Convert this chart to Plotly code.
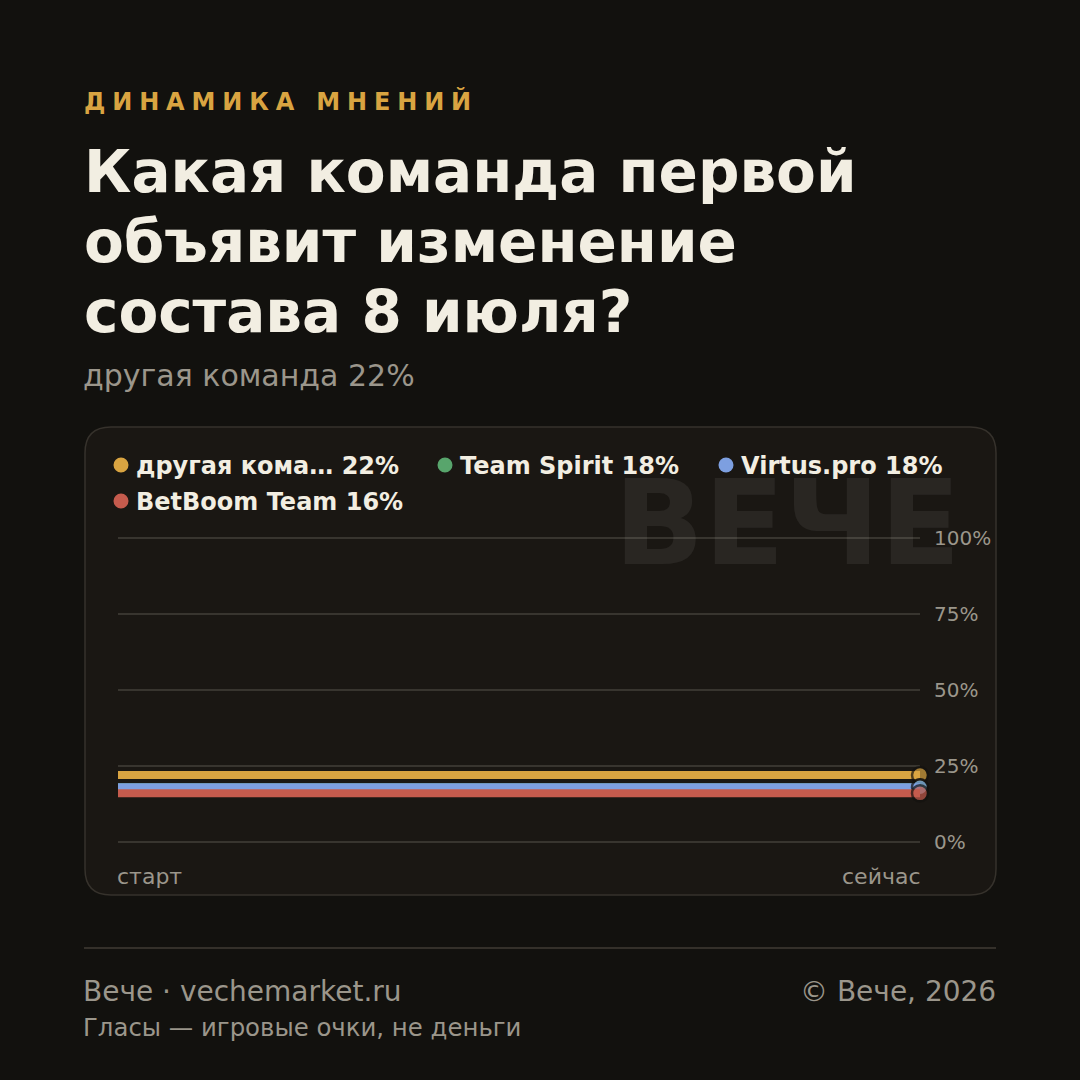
import plotly.graph_objects as go

# ---- data ----
time_labels = ["старт", "сейчас"]
team_names = ["другая команда", "Team Spirit", "Virtus.pro", "BetBoom Team"]
start_values = [22, 18, 18, 16]
now_values = [22, 18, 18, 16]
team_colors = ["#d9a441", "#58a56c", "#7d9fe0", "#c55b4d"]
y_ticks = [0, 25, 50, 75, 100]
y_tick_labels = ["0%", "25%", "50%", "75%", "100%"]

kicker = "ДИНАМИКА МНЕНИЙ"
title_lines = ["Какая команда первой", "объявит изменение", "состава 8 июля?"]
leader_text = f"{team_names[0]} {now_values[0]}%"

BG = "#12110e"
CARD = "#1a1713"
BORDER = "#36322c"
GRID = "#38352f"
TXT = "#f2eee2"
MUTED = "#9b968b"
FONT = "DejaVu Sans"
W = H = 1080


def px(x):
    return x / W


def py(y):
    return 1 - y / H


def short(n, m=12):
    return n if len(n) <= m else n[:11] + "…"


fig = go.Figure()

for name, s, v, c in zip(team_names, start_values, now_values, team_colors):
    fig.add_trace(go.Scatter(
        x=time_labels, y=[s, v], mode="lines+markers", name=name,
        line=dict(color=c, width=8),
        marker=dict(size=[0, 16], color=c, line=dict(color="#14120f", width=[0, 2.5])),
        cliponaxis=False, showlegend=False, hoverinfo="skip"))

# rounded card
x0, x1, y0, y1, r = 85, 996, 427, 895, 26
path = (f"M {px(x0 + r)} {py(y0)} L {px(x1 - r)} {py(y0)} Q {px(x1)} {py(y0)} {px(x1)} {py(y0 + r)} "
        f"L {px(x1)} {py(y1 - r)} Q {px(x1)} {py(y1)} {px(x1 - r)} {py(y1)} "
        f"L {px(x0 + r)} {py(y1)} Q {px(x0)} {py(y1)} {px(x0)} {py(y1 - r)} "
        f"L {px(x0)} {py(y0 + r)} Q {px(x0)} {py(y0)} {px(x0 + r)} {py(y0)} Z")

shapes = [
    dict(type="path", xref="paper", yref="paper", path=path, fillcolor=CARD,
         line=dict(color=BORDER, width=1.5), layer="below"),
    dict(type="line", xref="paper", yref="paper", x0=px(84), x1=px(996), y0=py(948), y1=py(948),
         line=dict(color="#34302a", width=2), layer="below"),
]

annotations = [
    dict(text="ВЕЧЕ", xref="paper", yref="paper", x=px(963), y=py(523), xanchor="right", yanchor="middle",
         showarrow=False, font=dict(family=FONT, size=118, color="rgba(255,255,255,0.065)", weight="bold")),
    dict(text=f"<span style='letter-spacing:6.85px'>{kicker}</span>", xref="paper", yref="paper",
         x=px(82), y=py(101), xanchor="left", yanchor="middle", showarrow=False,
         font=dict(family=FONT, size=24, color="#d9a441", weight="bold")),
    dict(text=leader_text, xref="paper", yref="paper", x=px(81), y=py(376), xanchor="left", yanchor="middle",
         showarrow=False, font=dict(family=FONT, size=30, color=MUTED)),
    dict(text="Вече · vechemarket.ru", xref="paper", yref="paper", x=px(81), y=py(991), xanchor="left",
         yanchor="middle", showarrow=False, font=dict(family=FONT, size=28, color=MUTED)),
    dict(text="© Вече, 2026", xref="paper", yref="paper", x=px(998), y=py(991), xanchor="right",
         yanchor="middle", showarrow=False, font=dict(family=FONT, size=28, color=MUTED)),
    dict(text="Гласы — игровые очки, не деньги", xref="paper", yref="paper", x=px(81), y=py(1027),
         xanchor="left", yanchor="middle", showarrow=False, font=dict(family=FONT, size=24.4, color=MUTED)),
    dict(text=time_labels[0], xref="x", yref="paper", x=time_labels[0], y=py(876), xanchor="left",
         yanchor="middle", showarrow=False, xshift=-3, font=dict(family=FONT, size=22, color=MUTED)),
    dict(text=time_labels[-1], xref="x", yref="paper", x=time_labels[-1], y=py(876), xanchor="right",
         yanchor="middle", showarrow=False, xshift=3, font=dict(family=FONT, size=22, color=MUTED)),
]
for i, line in enumerate(title_lines):
    annotations.append(dict(text=line, xref="paper", yref="paper", x=px(82), y=py(172 + 70 * i),
                            xanchor="left", yanchor="middle", showarrow=False,
                            font=dict(family=FONT, size=58, color=TXT, weight="bold")))

# legend (dots + labels)
legend_pos = [(121, 465), (445, 465), (726, 465), (121, 501)]
for (lx, ly), name, v, c in zip(legend_pos, team_names, now_values, team_colors):
    shapes.append(dict(type="circle", xref="paper", yref="paper", x0=px(lx - 7.5), x1=px(lx + 7.5),
                       y0=py(ly + 7.5), y1=py(ly - 7.5), fillcolor=c, line=dict(width=0)))
    annotations.append(dict(text=f"{short(name)} {v}%", xref="paper", yref="paper", x=px(lx + 13),
                            y=py(ly + 1), xanchor="left", yanchor="middle", showarrow=False,
                            font=dict(family=FONT, size=24, color=TXT, weight="bold")))

fig.update_layout(
    width=W, height=H, margin=dict(l=0, r=0, t=0, b=0, pad=0, autoexpand=False),
    paper_bgcolor=BG, plot_bgcolor="rgba(0,0,0,0)",
    font=dict(family=FONT, color=TXT),
    shapes=shapes, annotations=annotations,
    showlegend=False,
    xaxis=dict(type="category", range=[0, 1], domain=[px(118), px(920)], visible=False,
               fixedrange=True, automargin=False),
    yaxis=dict(range=[-1, 101], domain=[py(842 + 3.04), py(538 - 3.04)], side="right",
               tickvals=y_ticks, ticktext=y_tick_labels,
               showgrid=True, gridcolor=GRID, gridwidth=2, zeroline=False,
               showline=False, ticks="", ticklabelstandoff=13, automargin=False,
               tickfont=dict(family=FONT, size=20, color=MUTED), fixedrange=True),
)

fig.write_html("out.html")
